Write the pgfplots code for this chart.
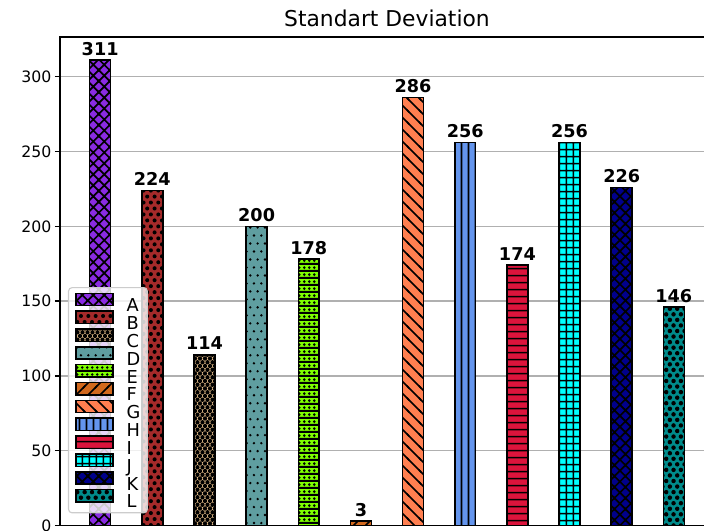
\documentclass[border=0pt]{standalone}
\usepackage{fontspec}
\setmainfont{DejaVu Sans}
\usepackage{pgfplots}
\pgfplotsset{compat=1.18}
\usetikzlibrary{patterns}

\definecolor{cA}{HTML}{8A2BE2}
\definecolor{cB}{HTML}{A52A2A}
\definecolor{cC}{HTML}{DEB887}
\definecolor{cD}{HTML}{5F9EA0}
\definecolor{cE}{HTML}{7FFF00}
\definecolor{cF}{HTML}{D2691E}
\definecolor{cG}{HTML}{FF7F50}
\definecolor{cH}{HTML}{6495ED}
\definecolor{cI}{HTML}{DC143C}
\definecolor{cJ}{HTML}{00FFFF}
\definecolor{cK}{HTML}{00008B}
\definecolor{cL}{HTML}{008B8B}
\definecolor{gridgray}{HTML}{B0B0B0}

% hatches, sized like the reference
\pgfdeclarepatternformonly{hx}{\pgfqpoint{-1pt}{-1pt}}{\pgfqpoint{8.9pt}{8.9pt}}{\pgfqpoint{7.9pt}{7.9pt}}{%
  \pgfsetlinewidth{1.2pt}%
  \pgfpathmoveto{\pgfqpoint{-1pt}{-1pt}}\pgfpathlineto{\pgfqpoint{8.9pt}{8.9pt}}%
  \pgfpathmoveto{\pgfqpoint{-1pt}{8.9pt}}\pgfpathlineto{\pgfqpoint{8.9pt}{-1pt}}%
  \pgfusepath{stroke}}
\pgfdeclarepatternformonly{hne}{\pgfqpoint{-1pt}{-1pt}}{\pgfqpoint{9.64pt}{9.64pt}}{\pgfqpoint{8.64pt}{8.64pt}}{%
  \pgfsetlinewidth{1.2pt}%
  \pgfpathmoveto{\pgfqpoint{-1pt}{-1pt}}\pgfpathlineto{\pgfqpoint{9.64pt}{9.64pt}}%
  \pgfusepath{stroke}}
\pgfdeclarepatternformonly{hnw}{\pgfqpoint{-1pt}{-1pt}}{\pgfqpoint{9.64pt}{9.64pt}}{\pgfqpoint{8.64pt}{8.64pt}}{%
  \pgfsetlinewidth{1.2pt}%
  \pgfpathmoveto{\pgfqpoint{-1pt}{9.64pt}}\pgfpathlineto{\pgfqpoint{9.64pt}{-1pt}}%
  \pgfusepath{stroke}}
\pgfdeclarepatternformonly{hvert}{\pgfqpoint{0pt}{0pt}}{\pgfqpoint{5pt}{5pt}}{\pgfqpoint{5pt}{5pt}}{%
  \pgfsetlinewidth{1.2pt}%
  \pgfpathmoveto{\pgfqpoint{2.5pt}{-0.5pt}}\pgfpathlineto{\pgfqpoint{2.5pt}{5.5pt}}%
  \pgfusepath{stroke}}
\pgfdeclarepatternformonly{hhor}{\pgfqpoint{0pt}{0pt}}{\pgfqpoint{5.2pt}{5.2pt}}{\pgfqpoint{5.2pt}{5.2pt}}{%
  \pgfsetlinewidth{1.2pt}%
  \pgfpathmoveto{\pgfqpoint{-0.5pt}{2.6pt}}\pgfpathlineto{\pgfqpoint{5.7pt}{2.6pt}}%
  \pgfusepath{stroke}}
\pgfdeclarepatternformonly{hgrid}{\pgfqpoint{0pt}{0pt}}{\pgfqpoint{5.2pt}{5.2pt}}{\pgfqpoint{5.2pt}{5.2pt}}{%
  \pgfsetlinewidth{1.2pt}%
  \pgfpathmoveto{\pgfqpoint{-0.5pt}{2.6pt}}\pgfpathlineto{\pgfqpoint{5.7pt}{2.6pt}}%
  \pgfpathmoveto{\pgfqpoint{2.6pt}{-0.5pt}}\pgfpathlineto{\pgfqpoint{2.6pt}{5.7pt}}%
  \pgfusepath{stroke}}
\pgfdeclarepatternformonly{dB}{\pgfqpoint{-1.45pt}{-1.45pt}}{\pgfqpoint{5.3pt}{8.6pt}}{\pgfqpoint{5.3pt}{8.6pt}}{%
  \pgfpathcircle{\pgfqpoint{0pt}{0pt}}{1.45pt}%
  \pgfpathcircle{\pgfqpoint{2.65pt}{4.3pt}}{1.45pt}%
  \pgfusepath{fill}}
\pgfdeclarepatternformonly{dC}{\pgfqpoint{-1.55pt}{-1.55pt}}{\pgfqpoint{3.6pt}{5.4pt}}{\pgfqpoint{3.6pt}{5.4pt}}{%
  \pgfpathcircle{\pgfqpoint{0pt}{0pt}}{1.55pt}%
  \pgfpathcircle{\pgfqpoint{1.8pt}{2.7pt}}{1.55pt}%
  \pgfusepath{fill}}
\pgfdeclarepatternformonly{dD}{\pgfqpoint{-0.95pt}{-0.95pt}}{\pgfqpoint{5.3pt}{11.5pt}}{\pgfqpoint{5.3pt}{11.5pt}}{%
  \pgfpathcircle{\pgfqpoint{0pt}{0pt}}{0.95pt}%
  \pgfpathcircle{\pgfqpoint{2.65pt}{5.75pt}}{0.95pt}%
  \pgfusepath{fill}}
\pgfdeclarepatternformonly{dE}{\pgfqpoint{0pt}{0pt}}{\pgfqpoint{3.4pt}{5pt}}{\pgfqpoint{3.4pt}{5pt}}{%
  \pgfpathrectangle{\pgfqpoint{-0.5pt}{0pt}}{\pgfqpoint{4.4pt}{1.6pt}}%
  \pgfpathcircle{\pgfqpoint{1.7pt}{3.2pt}}{1.05pt}%
  \pgfusepath{fill}}
\pgfdeclarepatternformonly{dL}{\pgfqpoint{-1.6pt}{-1.6pt}}{\pgfqpoint{5.3pt}{8pt}}{\pgfqpoint{5.3pt}{8pt}}{%
  \pgfpathcircle{\pgfqpoint{0pt}{0pt}}{1.6pt}%
  \pgfpathcircle{\pgfqpoint{2.65pt}{4pt}}{1.6pt}%
  \pgfusepath{fill}}

\pgfplotsset{
  hatchbar/.style 2 args={draw=black,line width=1.1pt,fill=#1,
    postaction={pattern=#2,pattern color=black}},
}

\begin{document}
\begin{tikzpicture}
\begin{axis}[
  scale only axis,
  width=470.88pt, height=351.72pt,
  xmin=-0.77, xmax=11.77,
  ymin=0, ymax=326.55,
  xtick=\empty,
  ytick={0,50,...,300},
  ytick pos=left,
  tick align=outside,
  major tick length=3.6pt,
  major tick style={black,line width=1pt},
  axis line style={line width=1pt},
  ymajorgrids,
  grid style={gridgray,line width=1pt},
  /pgf/number format/assume math mode=true,
  /pgf/number format/1000 sep={},
  y tick label style={font=\fontsize{11.3}{14}\selectfont,inner xsep=2.5pt},
  title={Standart Deviation},
  title style={at={(0.5,1)},anchor=base,yshift=1.9pt,font=\fontsize{15.7}{18}\selectfont},
  ybar, bar width=0.4, bar shift=0pt,
  nodes near coords,
  every node near coord/.append style={font=\bfseries\fontsize{12.7}{15}\selectfont,anchor=base,yshift=3.6pt,black},
  legend image code/.code={\draw[sharp corners,fill opacity=1,draw opacity=1,#1] (0pt,0pt) rectangle (26.3pt,8.9pt);},
  legend cell align=left,
  legend style={at={(0.0122,0.488)},anchor=north west,
    draw=black!20,line width=0.8pt,rounded corners=2.5pt,
    fill=white,fill opacity=0.8,text opacity=1,
    inner xsep=5pt,inner ysep=3.5pt,column sep=9.4pt,row sep=-0.9pt,
    font=\fontsize{12.8}{15}\selectfont,
    nodes={inner sep=0pt,text height=8.6pt,text depth=0pt}},
]
\addplot[hatchbar={cA}{hx}] coordinates {(0,311)};
\addplot[hatchbar={cB}{dB}] coordinates {(1,224)};
\addplot[hatchbar={cC}{dC}] coordinates {(2,114)};
\addplot[hatchbar={cD}{dD}] coordinates {(3,200)};
\addplot[hatchbar={cE}{dE}] coordinates {(4,178)};
\addplot[hatchbar={cF}{hne}] coordinates {(5,3)};
\addplot[hatchbar={cG}{hnw}] coordinates {(6,286)};
\addplot[hatchbar={cH}{hvert}] coordinates {(7,256)};
\addplot[hatchbar={cI}{hhor}] coordinates {(8,174)};
\addplot[hatchbar={cJ}{hgrid}] coordinates {(9,256)};
\addplot[hatchbar={cK}{hx}] coordinates {(10,226)};
\addplot[hatchbar={cL}{dL}] coordinates {(11,146)};
\legend{A,B,C,D,E,F,G,H,I,J,K,L}
\end{axis}
\pgfresetboundingbox
\path[use as bounding box] ([xshift=-43.2pt,yshift=-3.96pt]current axis.south west) rectangle ([xshift=-7.2pt,yshift=26.64pt]current axis.north east);
\end{tikzpicture}
\end{document}
